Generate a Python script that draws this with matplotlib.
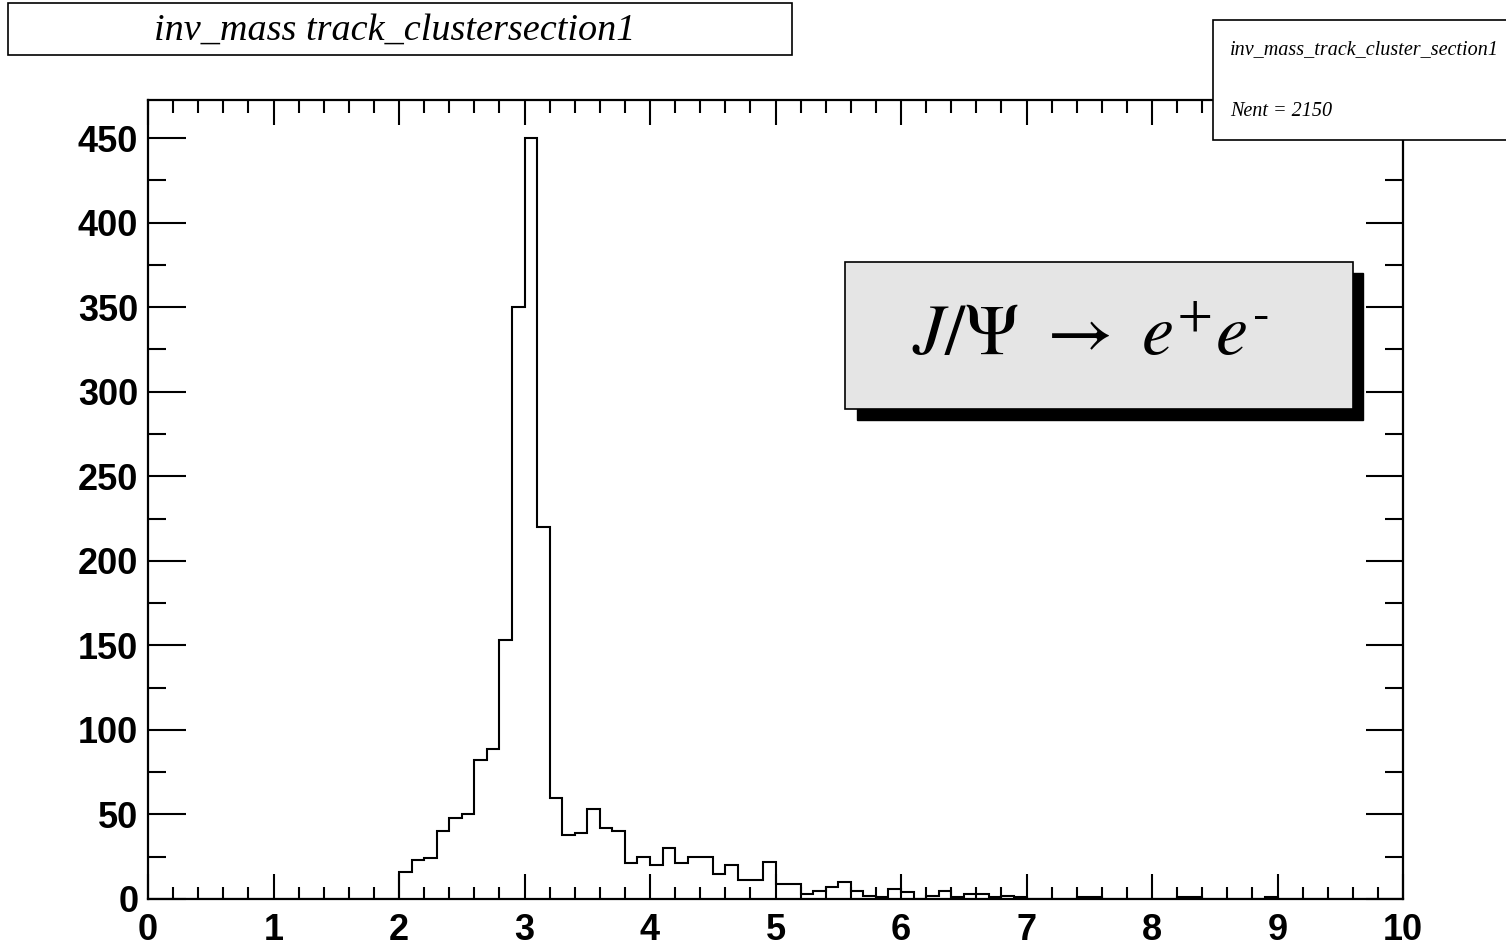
import numpy as np
import matplotlib
matplotlib.use("Agg")
import matplotlib.pyplot as plt
from matplotlib.patches import Rectangle
from matplotlib.ticker import MultipleLocator

# contenido de los bines (ancho 0.1, de 0 a 10)
conteos_0_2 = [0] * 20
conteos_2_3 = [16, 23, 24, 40, 48, 50, 82, 89, 153, 350]
conteos_3_4 = [450, 220, 60, 38, 39, 53, 42, 40, 21, 25]
conteos_4_5 = [20, 30, 21, 25, 25, 15, 20, 11, 11, 22]
conteos_5_6 = [9, 9, 3, 5, 7, 10, 5, 2, 1, 6]
conteos_6_7 = [4, 0, 2, 5, 1, 3, 3, 1, 2, 1]
conteos_7_8 = [0, 0, 0, 0, 1, 1, 0, 0, 0, 0]
conteos_8_9 = [0, 0, 1, 1, 0, 0, 0, 0, 0, 1]
conteos_9_10 = [0] * 10

titulo = "inv_mass track_clustersection1"
nombre_hist = "inv_mass_track_cluster_section1"
n_entradas = 2150

conteos = np.array(conteos_0_2 + conteos_2_3 + conteos_3_4 + conteos_4_5 + conteos_5_6
                   + conteos_6_7 + conteos_7_8 + conteos_8_9 + conteos_9_10)
bordes = np.linspace(0, 10, len(conteos) + 1)

plt.rcParams["mathtext.fontset"] = "stix"

fig = plt.figure(figsize=(15.06, 9.49), dpi=100)
ax = fig.add_axes([148 / 1506, 50 / 949, 1255 / 1506, 799 / 949])

ax.stairs(conteos, bordes, color="black", linewidth=1.5)
ax.set_xlim(0, 10)
ax.set_ylim(0, conteos.max() * 1.05)

ax.xaxis.set_major_locator(MultipleLocator(1))
ax.xaxis.set_minor_locator(MultipleLocator(0.2))
ax.yaxis.set_major_locator(MultipleLocator(50))
ax.yaxis.set_minor_locator(MultipleLocator(25))
ax.tick_params(axis="both", which="both", direction="in", top=True, right=True, width=1.5)
ax.tick_params(axis="x", which="major", length=18, pad=10)
ax.tick_params(axis="x", which="minor", length=9)
ax.tick_params(axis="y", which="major", length=27, pad=7)
ax.tick_params(axis="y", which="minor", length=13)
for s in ax.spines.values():
    s.set_linewidth(1.6)
for lab in ax.get_xticklabels() + ax.get_yticklabels():
    lab.set_fontfamily("Liberation Sans")
    lab.set_fontweight("bold")
    lab.set_fontsize(26)

# caja del titulo
fig.patches.append(Rectangle((8 / 1506, 1 - 55 / 949), 784 / 1506, 52 / 949,
                             transform=fig.transFigure, facecolor="white",
                             edgecolor="black", linewidth=1.2))
fig.text(395 / 1506, 1 - 30 / 949, titulo, ha="center", va="center",
         family="Liberation Serif", style="italic", fontsize=27.5)

# caja de estadisticas
fig.patches.append(Rectangle((1213 / 1506, 1 - 140 / 949), 300 / 1506, 120 / 949,
                             transform=fig.transFigure, facecolor="white",
                             edgecolor="black", linewidth=1.2, zorder=5))
fig.text(1230 / 1506, 1 - 50 / 949, nombre_hist, ha="left", va="center",
         family="Liberation Serif", style="italic", fontsize=14.5, zorder=6)
fig.text(1230 / 1506, 1 - 112 / 949, "Nent = %d" % n_entradas, ha="left", va="center",
         family="Liberation Serif", style="italic", fontsize=14.5, zorder=6)

# caja J/Psi con sombra
fig.patches.append(Rectangle((857 / 1506, 1 - 420 / 949), 506 / 1506, 147 / 949,
                             transform=fig.transFigure, facecolor="black",
                             edgecolor="black", linewidth=1, zorder=3))
fig.patches.append(Rectangle((845 / 1506, 1 - 409 / 949), 508 / 1506, 147 / 949,
                             transform=fig.transFigure, facecolor="#e5e5e5",
                             edgecolor="black", linewidth=1.2, zorder=4))
etiqueta = r"$J/\Psi\ \rightarrow\ e^{+}e^{" + "\u2010" + "}$"
fig.text(1090 / 1506, 1 - 336 / 949, etiqueta,
         ha="center", va="center", fontsize=52, zorder=5)

fig.savefig("out.png", dpi=100)
